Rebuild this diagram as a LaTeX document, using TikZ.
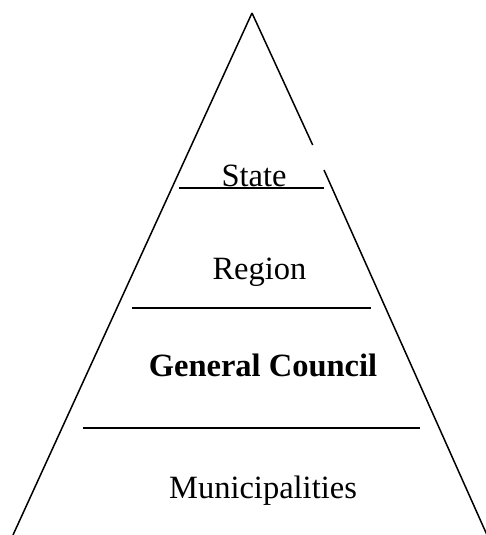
\documentclass[tikz,border=0pt]{standalone}
\usepackage{fontspec}
\setmainfont{Liberation Serif}
\begin{document}
\begin{tikzpicture}[x=1pt,y=-1pt,
  edge/.style={line width=1.5pt,black},
  tier/.style={line width=1.5pt,black},
  lab/.style={anchor=base,inner sep=0pt,font=\fontsize{32.5}{38}\selectfont}]
\useasboundingbox (0,0) rectangle (485,535);
\coordinate (apex) at (252,13);
\coordinate (bl) at (13,535);
\coordinate (br) at (487,535);
\coordinate (gapa) at (312.7,145);
\coordinate (gapb) at (324,170);
\draw[edge] (apex) -- (bl);
\draw[edge] (apex) -- (gapa);
\draw[edge] (gapb) -- (br);
\coordinate (s1) at (179,188);
\coordinate (s2) at (324,188);
\coordinate (r1) at (132,308);
\coordinate (r2) at (371,308);
\coordinate (g1) at (83,428);
\coordinate (g2) at (420,428);
\draw[tier] (s1) -- (s2);
\draw[tier] (r1) -- (r2);
\draw[tier] (g1) -- (g2);
\node[lab] (state) at (254,186) {State};
\node[lab] (region) at (259.5,279) {Region};
\node[lab,font=\fontsize{32.5}{38}\selectfont\bfseries] (council) at (263,376) {General Council};
\node[lab] (muni) at (263,498) {Municipalities};
\end{tikzpicture}
\end{document}
